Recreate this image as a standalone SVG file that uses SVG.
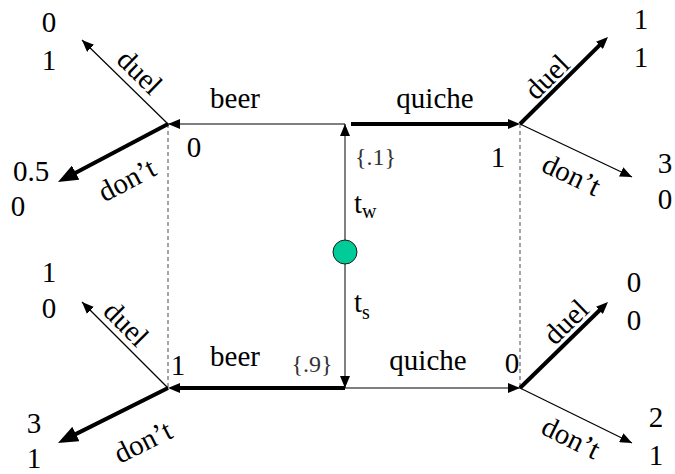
<svg xmlns="http://www.w3.org/2000/svg" width="675" height="474" viewBox="0 0 675 474">
<defs>
<style>
text{font-family:'Liberation Serif','Times New Roman',serif;font-size:29px;fill:#000}
.c{text-anchor:middle}
.prob{font-size:24px;fill:#333}
.sub{font-size:20px}
.thin{stroke:#000;stroke-width:1.2;fill:none}
.thick{stroke:#000;stroke-width:4;fill:none}
.dash{stroke:#888;stroke-width:1.5;stroke-dasharray:4 3;fill:none}
.nat{stroke:#808080;stroke-width:2;fill:none}
</style>
<marker id="ahs" markerUnits="userSpaceOnUse" markerWidth="12" markerHeight="10" viewBox="0 0 12 10" refX="12" refY="5" orient="auto"><path d="M0,0 L12,5 L0,10 z" fill="#000"/></marker>
<marker id="aht" markerUnits="userSpaceOnUse" markerWidth="12" markerHeight="10" viewBox="0 0 12 10" refX="6" refY="5" orient="auto"><path d="M0,0 L12,5 L0,10 z" fill="#000"/></marker>
<marker id="ahl" markerUnits="userSpaceOnUse" markerWidth="20" markerHeight="16" viewBox="0 0 20 16" refX="8" refY="8" orient="auto"><path d="M0,0 L20,8 L0,16 z" fill="#000"/></marker>
</defs>
<rect width="675" height="474" fill="#fff"/>
<g id="connectors">
<line class="dash" x1="168" y1="124" x2="168" y2="388"/>
<line class="dash" x1="520" y1="124" x2="520" y2="388"/>
<line class="nat" x1="345" y1="252" x2="345" y2="124" marker-end="url(#ahs)"/>
<line class="nat" x1="345" y1="252" x2="345" y2="388" marker-end="url(#ahs)"/>
<line class="thin" x1="345" y1="124" x2="168" y2="124" marker-end="url(#ahs)"/>
<line class="thick" x1="351" y1="124" x2="514" y2="124" marker-end="url(#aht)"/>
<line class="thick" x1="345" y1="388" x2="174" y2="388" marker-end="url(#aht)"/>
<line class="thin" x1="345" y1="388" x2="520" y2="388" marker-end="url(#ahs)"/>
<line class="thin" x1="168" y1="124" x2="82" y2="40" marker-end="url(#ahs)"/>
<line class="thick" x1="168" y1="124" x2="68.6" y2="176.4" marker-end="url(#ahl)"/>
<line class="thick" x1="520" y1="124" x2="603.7" y2="41.2" marker-end="url(#aht)"/>
<line class="thin" x1="520" y1="124" x2="632" y2="177" marker-end="url(#ahs)"/>
<line class="thin" x1="168" y1="388" x2="82" y2="302" marker-end="url(#ahs)"/>
<line class="thick" x1="168" y1="388" x2="68.7" y2="437.6" marker-end="url(#ahl)"/>
<line class="thick" x1="520" y1="388" x2="603.7" y2="306.2" marker-end="url(#aht)"/>
<line class="thin" x1="520" y1="388" x2="632" y2="443" marker-end="url(#ahs)"/>
</g>
<g id="nature">
<circle cx="345" cy="252" r="12" fill="#00CC99" stroke="#1a1a1a" stroke-width="1"/>
<text x="355" y="165" class="prob">{.1}</text>
<text x="354" y="213">t<tspan class="sub" dy="5">w</tspan></text>
<text x="354" y="312">t<tspan class="sub" dy="7">s</tspan></text>
<text x="312" y="372" class="prob c">{.9}</text>
</g>
<g id="node-tl">
<text x="194" y="157" class="c">0</text>
<text x="235" y="108" class="c">beer</text>
<text transform="translate(133,79) rotate(44.3)" class="c">duel</text>
<text transform="translate(131.4,188.4) rotate(-27.8)" class="c">don’t</text>
<text x="49" y="32" class="c">0</text>
<text x="49" y="70" class="c">1</text>
<text x="31" y="181" class="c">0.5</text>
<text x="18" y="216" class="c">0</text>
</g>
<g id="node-tr">
<text x="498" y="167" class="c">1</text>
<text x="435" y="108" class="c">quiche</text>
<text transform="translate(553.7,83.8) rotate(-44.7)" class="c">duel</text>
<text transform="translate(567.4,183.6) rotate(25.3)" class="c">don’t</text>
<text x="641" y="29" class="c">1</text>
<text x="641" y="67" class="c">1</text>
<text x="665" y="173" class="c">3</text>
<text x="665" y="209" class="c">0</text>
</g>
<g id="node-bl">
<text x="178" y="375" class="c">1</text>
<text x="235" y="366" class="c">beer</text>
<text transform="translate(119.3,330.7) rotate(45)" class="c">duel</text>
<text transform="translate(147.2,450.5) rotate(-26.6)" class="c">don’t</text>
<text x="49" y="282" class="c">1</text>
<text x="49" y="318" class="c">0</text>
<text x="34" y="433" class="c">3</text>
<text x="34" y="468" class="c">1</text>
</g>
<g id="node-br">
<text x="512" y="373" class="c">0</text>
<text x="428" y="370" class="c">quiche</text>
<text transform="translate(572.6,328.8) rotate(-44.3)" class="c">duel</text>
<text transform="translate(566.8,446.5) rotate(26.2)" class="c">don’t</text>
<text x="634" y="292" class="c">0</text>
<text x="634" y="330" class="c">0</text>
<text x="656" y="427" class="c">2</text>
<text x="656" y="465" class="c">1</text>
</g>
</svg>
